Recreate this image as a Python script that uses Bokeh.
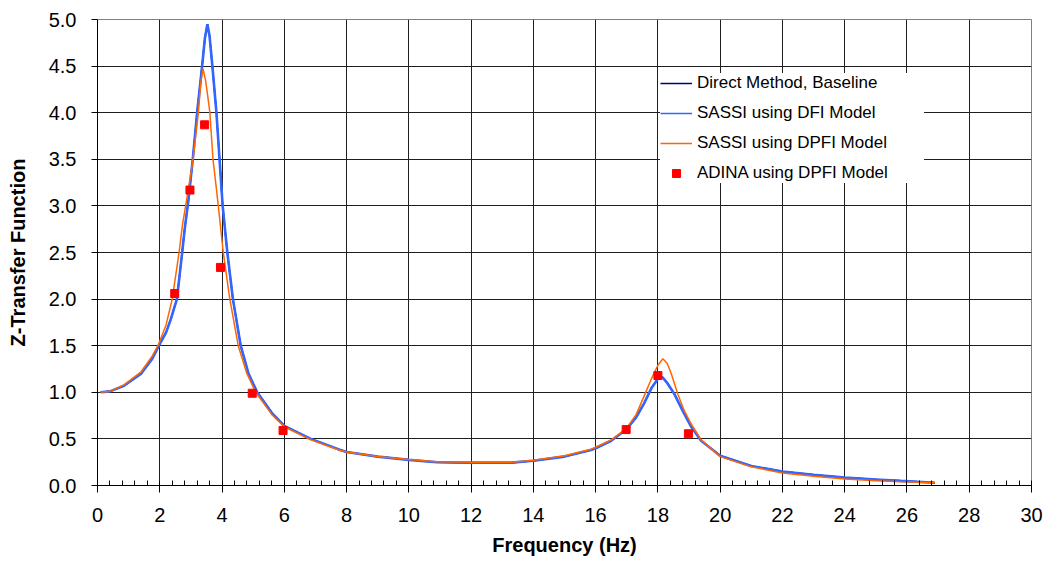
from bokeh.plotting import figure
from bokeh.models import (Range1d, SingleIntervalTicker, PrintfTickFormatter,
                          Legend, LegendItem)
from bokeh.embed import file_html
from bokeh.resources import INLINE

# ---------------- data ----------------
direct_f = [0.1, 0.4, 0.85, 1.4, 1.76, 1.97, 2.2, 2.35, 2.55, 2.72, 2.8, 2.92,
            3.06, 3.2, 3.36, 3.45, 3.53, 3.6, 3.69, 3.82, 3.92, 4.02, 4.17,
            4.35, 4.6, 4.85, 5.13, 5.62, 6.0, 6.85, 7.8, 8.0, 9.0, 10.0, 10.9,
            12.0, 13.3, 14.0, 15.0, 15.85, 16.0, 16.5, 16.98, 17.3, 17.57, 17.8,
            18.03, 18.15, 18.3, 18.53, 18.8, 19.07, 19.39, 20.0, 21.0, 22.0,
            23.0, 24.0, 25.0, 25.8, 26.9]
direct_v = [1.0, 1.01, 1.07, 1.2, 1.36, 1.5, 1.64, 1.78, 2.0, 2.5, 2.75, 3.06,
            3.5, 4.0, 4.5, 4.8, 4.95, 4.82, 4.5, 4.0, 3.5, 3.0, 2.5,
            2.0, 1.5, 1.2, 1.0, 0.77, 0.64, 0.5, 0.38, 0.36, 0.31, 0.275, 0.25,
            0.245, 0.245, 0.265, 0.31, 0.38, 0.4, 0.48, 0.6, 0.73, 0.89, 1.05,
            1.16, 1.16, 1.1, 0.98, 0.8, 0.63, 0.48, 0.32, 0.21, 0.15,
            0.115, 0.085, 0.065, 0.05, 0.03]

dfi_f = [0.1, 0.4, 0.85, 1.4, 1.76, 1.97, 2.2, 2.35, 2.55, 2.72, 2.8, 2.92,
         3.06, 3.2, 3.36, 3.45, 3.53, 3.6, 3.69, 3.82, 3.92, 4.02, 4.17,
         4.35, 4.6, 4.85, 5.13, 5.62, 6.0, 6.85, 7.8, 8.0, 9.0, 10.0, 10.9,
         12.0, 13.3, 14.0, 15.0, 15.85, 16.0, 16.5, 16.98, 17.3, 17.57, 17.8,
         18.03, 18.15, 18.3, 18.53, 18.8, 19.07, 19.39, 20.0, 21.0, 22.0,
         23.0, 24.0, 25.0, 25.8, 26.9]
dfi_v = [1.0, 1.01, 1.07, 1.2, 1.36, 1.5, 1.64, 1.78, 2.0, 2.5, 2.75, 3.06,
         3.5, 4.0, 4.5, 4.8, 4.95, 4.82, 4.5, 4.0, 3.5, 3.0, 2.5,
         2.0, 1.5, 1.2, 1.0, 0.77, 0.64, 0.5, 0.38, 0.36, 0.31, 0.275, 0.25,
         0.245, 0.245, 0.265, 0.31, 0.38, 0.4, 0.48, 0.6, 0.73, 0.89, 1.05,
         1.16, 1.16, 1.1, 0.98, 0.8, 0.63, 0.48, 0.32, 0.21, 0.15,
         0.115, 0.085, 0.065, 0.05, 0.03]

dpfi_f = [0.1, 0.4, 0.85, 1.4, 1.76, 1.94, 2.2, 2.4, 2.62, 2.73, 2.86,
          3.07, 3.24, 3.32, 3.39, 3.47, 3.54, 3.61, 3.71, 3.79, 3.88, 4.04,
          4.25, 4.52, 4.8, 5.08, 5.6, 6.0, 6.85, 7.8, 8.0, 9.0, 10.0, 10.9,
          12.0, 13.3, 14.0, 15.0, 15.85, 16.0, 16.5, 16.98, 17.3, 17.57, 17.8,
          18.0, 18.16, 18.3, 18.43, 18.64, 18.85, 19.07, 19.39, 20.0, 21.0,
          22.0, 23.0, 24.0, 25.0, 25.8, 26.9]
dpfi_v = [1.0, 1.01, 1.08, 1.22, 1.39, 1.5, 1.72, 2.0, 2.5, 2.8, 3.06,
          3.5, 4.0, 4.33, 4.47, 4.35, 4.18, 4.0, 3.5, 3.27, 3.0, 2.5,
          2.0, 1.5, 1.2, 1.0, 0.76, 0.63, 0.49, 0.375, 0.36, 0.31, 0.28, 0.255,
          0.25, 0.25, 0.27, 0.32, 0.39, 0.41, 0.49, 0.61, 0.76, 0.97, 1.15,
          1.29, 1.36, 1.31, 1.2, 0.98, 0.8, 0.66, 0.49, 0.31, 0.2,
          0.135, 0.1, 0.07, 0.05, 0.04, 0.03]

adina_f = [2.48, 2.97, 3.44, 3.95, 4.97, 5.96, 16.98, 18.0, 18.98]
adina_v = [2.06, 3.17, 3.87, 2.34, 0.99, 0.59, 0.60, 1.18, 0.555]

labels = ["Direct Method, Baseline", "SASSI using DFI Model",
          "SASSI using DPFI Model", "ADINA using DPFI Model"]

FONT = "Liberation Sans"

p = figure(width=1051, height=562, output_backend="svg", toolbar_location=None,
           x_range=Range1d(0, 30), y_range=Range1d(0, 5),
           min_border_left=97, min_border_right=20, min_border_top=19,
           min_border_bottom=77, background_fill_color="white",
           border_fill_color="white")

p.outline_line_color = "#808080"
p.outline_line_width = 1

# axes
xa = p.xaxis[0]
xa.ticker = SingleIntervalTicker(interval=2, num_minor_ticks=5)
xa.axis_label = "Frequency (Hz)"
xa.major_tick_out = 7
xa.major_tick_in = 0
xa.minor_tick_in = 5
xa.minor_tick_out = 0
xa.major_label_standoff = 15
xa.axis_label_standoff = 9

ya = p.yaxis[0]
ya.ticker = SingleIntervalTicker(interval=0.5, num_minor_ticks=0)
ya.formatter = PrintfTickFormatter(format="%.1f")
ya.axis_label = "Z-Transfer Function"
ya.major_tick_out = 6
ya.major_tick_in = 0
ya.major_label_standoff = 15
ya.axis_label_standoff = 17

for ax in (xa, ya):
    ax.axis_line_color = "black"
    ax.major_tick_line_color = "black"
    ax.major_label_text_font = FONT
    ax.major_label_text_font_size = "20px"
    ax.major_label_text_color = "black"
    ax.axis_label_text_font = FONT
    ax.axis_label_text_font_size = "20px"
    ax.axis_label_text_font_style = "bold"
    ax.axis_label_text_color = "black"
xa.minor_tick_line_color = "black"
ya.minor_tick_line_color = None

p.xgrid.grid_line_color = "#1f1f1f"
p.ygrid.grid_line_color = "#1f1f1f"
p.xgrid.grid_line_width = 1
p.ygrid.grid_line_width = 1

# data
r_direct = p.line(direct_f, direct_v, line_color="#000080", line_width=1.5)
p.line(dfi_f, dfi_v, line_color="#3366FF", line_width=2.6)
r_dfi = p.line(dfi_f, dfi_v, line_color="#3366FF", line_width=1.5)
r_dpfi = p.line(dpfi_f, dpfi_v, line_color="#FF6600", line_width=1.5)
r_adina = p.scatter(adina_f, adina_v, marker="square", size=8,
                    fill_color="#FF0000", line_color="#FF0000")

legend = Legend(items=[LegendItem(label=labels[0], renderers=[r_direct]),
                       LegendItem(label=labels[1], renderers=[r_dfi]),
                       LegendItem(label=labels[2], renderers=[r_dpfi]),
                       LegendItem(label=labels[3], renderers=[r_adina])],
                location=(563, 302), padding=4, margin=0, spacing=10,
                glyph_width=32, glyph_height=20, label_height=20,
                label_width=227, label_standoff=5,
                label_text_font=FONT, label_text_font_size="17px",
                label_text_color="black",
                background_fill_color="white", background_fill_alpha=1.0,
                border_line_color=None)
p.add_layout(legend)

open("out.html", "w").write(file_html(p, INLINE))
